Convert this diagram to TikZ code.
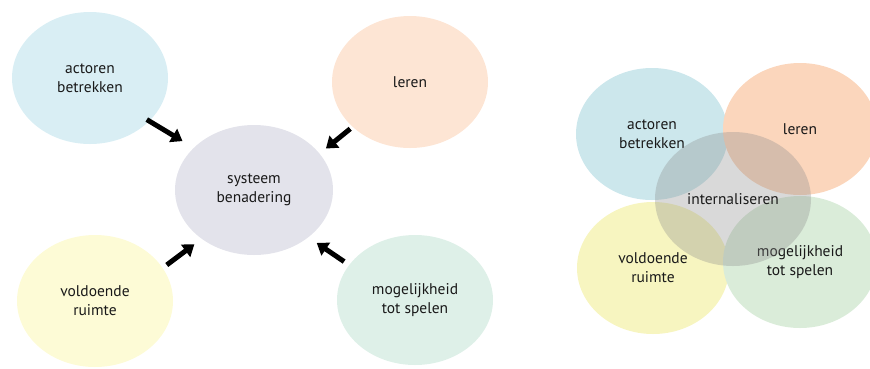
\documentclass[tikz,border=0pt]{standalone}
\usepackage{fontspec}
\setmainfont{PT Sans}
\usetikzlibrary{shapes.geometric,arrows.meta}

% pale fills for the arrow diagram
\definecolor{cBlue}{HTML}{D9EEF4}
\definecolor{cOrange}{HTML}{FDE5D4}
\definecolor{cGray}{HTML}{E3E3EB}
\definecolor{cYellow}{HTML}{FDFBD6}
\definecolor{cGreen}{HTML}{DEF0E8}
% stronger fills for the overlapping diagram
\definecolor{dBlue}{HTML}{CCE7EC}
\definecolor{dOrange}{HTML}{FBD6BC}
\definecolor{dYellow}{HTML}{F7F5C0}
\definecolor{dGreen}{HTML}{DAECD9}

\tikzset{
  bubble/.style={ellipse, inner sep=0pt, minimum width=156pt, minimum height=132pt,
    align=center, font=\fontsize{15.5}{19}\selectfont, text=black!90},
  bigarrow/.style={line width=5pt, -{Triangle[width=15pt,length=11pt]}},
}

\begin{document}
\begin{tikzpicture}[x=1pt,y=-1pt]
\useasboundingbox (0,0) rectangle (870,368);
\clip (0,0) rectangle (870,368);

% --- arrow diagram ---
\node[bubble, fill=cBlue]   (act)  at (90,78)   {actoren\\betrekken};
\node[bubble, fill=cOrange] (ler)  at (410,82)  {leren};
\node[bubble, fill=cGray, minimum width=158pt, minimum height=130pt] (sys) at (254,190) {systeem\\benadering};
\node[bubble, fill=cYellow] (vol)  at (95,301)  {voldoende\\ruimte};
\node[bubble, fill=cGreen, minimum height=130pt]  (mog)  at (415,300) {mogelijkheid\\tot spelen};

\draw[bigarrow, shorten <=-3pt, shorten >=13pt] (act.324) -- (sys.145);
\draw[bigarrow, shorten <=3pt,  shorten >=8pt]  (ler.218) -- (sys.29);
\draw[bigarrow, shorten <=5pt,  shorten >=9pt]  (vol.26)  -- (sys.223);
\draw[bigarrow, shorten <=6pt,  shorten >=10pt] (mog.152) -- (sys.319);

% --- overlapping diagram ---
\node[bubble, fill=dBlue, minimum width=152pt]   (ract) at (652,134) {actoren\\betrekken};
\node[bubble, fill=dOrange, minimum width=154pt] (rler) at (800,129) {leren};
\node[bubble, fill=dYellow, minimum width=152pt] (rvol) at (653,268) {voldoende\\ruimte};
\node[bubble, fill=dGreen, minimum width=154pt]  (rmog) at (800,262) {mogelijkheid\\tot spelen};
\node[bubble, fill=black!45, fill opacity=0.33, text opacity=1, minimum height=134pt] (rint) at (733,199) {internaliseren};
\end{tikzpicture}
\end{document}
